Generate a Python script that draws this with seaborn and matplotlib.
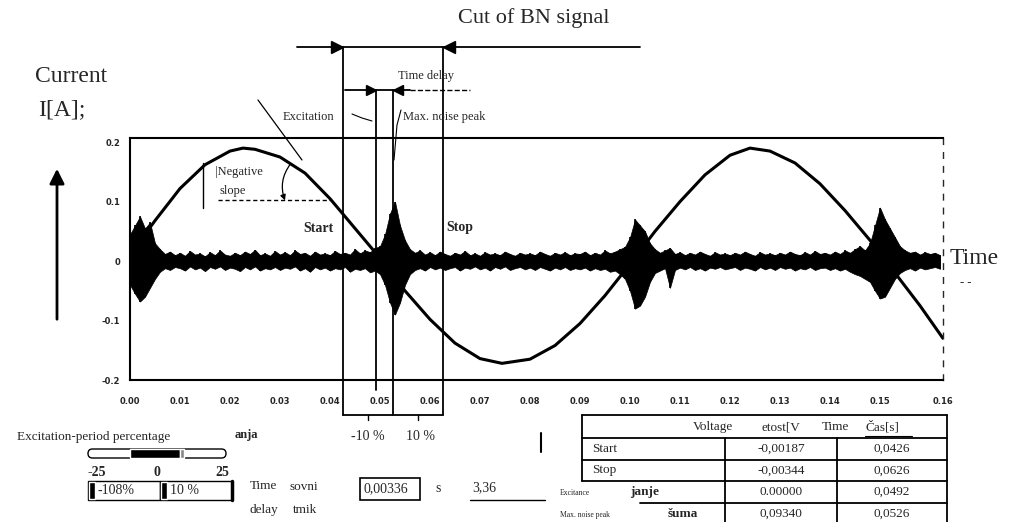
"""Barkhausen noise signal with excitation current and cut window."""

import matplotlib

matplotlib.use("Agg")

import matplotlib.pyplot as plt
import seaborn as sns
from matplotlib.patches import FancyBboxPatch, Rectangle

sns.set_style("white")
plt.rcParams["font.family"] = ["Liberation Serif", "DejaVu Serif"]

# Excitation current (sine)
sine_t = [0.003, 0.005, 0.010, 0.015, 0.020, 0.0226, 0.025, 0.030, 0.035,
          0.040, 0.045, 0.050, 0.055, 0.060, 0.065, 0.070, 0.0744, 0.080,
          0.085, 0.090, 0.095, 0.100, 0.105, 0.110, 0.115, 0.120, 0.124,
          0.128, 0.133, 0.138, 0.143, 0.148, 0.153, 0.158, 0.1626]
sine_i = [0.045, 0.068, 0.122, 0.162, 0.185, 0.190, 0.188, 0.175, 0.148,
          0.105, 0.055, 0.005, -0.050, -0.098, -0.138, -0.164, -0.172, -0.165,
          -0.142, -0.105, -0.058, -0.005, 0.050, 0.100, 0.145, 0.178, 0.190,
          0.185, 0.165, 0.130, 0.085, 0.035, -0.020, -0.075, -0.130]

# Barkhausen noise envelope, one value per millisecond (upper / lower edge)
noise_hi = [0.045, 0.060, 0.075, 0.055, 0.065, 0.030, 0.020, 0.012, 0.016, 0.010,
            0.014, 0.009, 0.017, 0.011, 0.013, 0.008, 0.015, 0.010, 0.018, 0.011,
            0.009, 0.014, 0.010, 0.016, 0.012, 0.019, 0.010, 0.013, 0.009, 0.017,
            0.011, 0.015, 0.010, 0.018, 0.012, 0.014, 0.009, 0.016, 0.011, 0.013,
            0.010, 0.017, 0.012, 0.014, 0.011, 0.020, 0.013, 0.018, 0.015, 0.022,
            0.025, 0.045, 0.080, 0.100, 0.060, 0.035, 0.020, 0.014, 0.018, 0.011,
            0.015, 0.010, 0.016, 0.012, 0.009, 0.014, 0.011, 0.017, 0.010, 0.013,
            0.009, 0.015, 0.011, 0.013, 0.010, 0.016, 0.012, 0.009, 0.014, 0.011,
            0.013, 0.010, 0.016, 0.012, 0.009, 0.014, 0.011, 0.015, 0.010, 0.013,
            0.012, 0.016, 0.010, 0.014, 0.011, 0.018, 0.013, 0.016, 0.020, 0.024,
            0.040, 0.070, 0.060, 0.050, 0.030, 0.020, 0.014, 0.018, 0.022, 0.012,
            0.015, 0.010, 0.014, 0.011, 0.016, 0.012, 0.009, 0.015, 0.011, 0.013,
            0.010, 0.014, 0.011, 0.016, 0.012, 0.009, 0.015, 0.011, 0.013, 0.010,
            0.014, 0.011, 0.016, 0.012, 0.010, 0.015, 0.011, 0.017, 0.012, 0.014,
            0.011, 0.016, 0.012, 0.018, 0.014, 0.020, 0.025, 0.018, 0.030, 0.060,
            0.090, 0.070, 0.055, 0.040, 0.025, 0.018, 0.014, 0.016, 0.011, 0.015,
            0.012, 0.014, 0.010]
noise_lo = [-0.040, -0.055, -0.068, -0.060, -0.045, -0.030, -0.018, -0.012, -0.015, -0.010,
            -0.012, -0.016, -0.009, -0.014, -0.011, -0.017, -0.010, -0.013, -0.009, -0.015,
            -0.011, -0.013, -0.017, -0.010, -0.014, -0.009, -0.016, -0.012, -0.014, -0.010,
            -0.015, -0.011, -0.013, -0.009, -0.016, -0.012, -0.018, -0.010, -0.014, -0.011,
            -0.016, -0.012, -0.014, -0.010, -0.018, -0.013, -0.015, -0.012, -0.019, -0.016,
            -0.022, -0.040, -0.070, -0.090, -0.070, -0.040, -0.022, -0.015, -0.012, -0.016,
            -0.010, -0.014, -0.011, -0.015, -0.012, -0.010, -0.016, -0.011, -0.013, -0.009,
            -0.014, -0.011, -0.016, -0.010, -0.013, -0.009, -0.015, -0.012, -0.010, -0.014,
            -0.011, -0.015, -0.010, -0.013, -0.016, -0.011, -0.014, -0.010, -0.015, -0.012,
            -0.014, -0.011, -0.016, -0.012, -0.015, -0.013, -0.018, -0.016, -0.022, -0.030,
            -0.050, -0.080, -0.075, -0.060, -0.035, -0.020, -0.016, -0.012, -0.045, -0.015,
            -0.011, -0.014, -0.010, -0.015, -0.012, -0.016, -0.011, -0.013, -0.010, -0.014,
            -0.012, -0.010, -0.015, -0.011, -0.013, -0.016, -0.010, -0.014, -0.011, -0.015,
            -0.010, -0.013, -0.011, -0.016, -0.012, -0.014, -0.010, -0.015, -0.012, -0.011,
            -0.015, -0.012, -0.016, -0.013, -0.018, -0.022, -0.025, -0.030, -0.035, -0.050,
            -0.063, -0.060, -0.045, -0.030, -0.020, -0.015, -0.012, -0.016, -0.011, -0.014,
            -0.012, -0.010, -0.013]
noise_t = [round(0.001 * k, 3) for k in range(len(noise_hi))]

x_ticks = [0.00, 0.01, 0.02, 0.03, 0.04, 0.05, 0.06, 0.07, 0.08, 0.09,
           0.10, 0.11, 0.12, 0.13, 0.14, 0.15, 0.1626]
x_tick_labels = ["0.00", "0.01", "0.02", "0.03", "0.04", "0.05", "0.06",
                 "0.07", "0.08", "0.09", "0.10", "0.11", "0.12", "0.13",
                 "0.14", "0.15", "0.16"]
y_ticks = [-0.2, -0.1, 0.0, 0.1, 0.2]
y_tick_labels = ["-0.2", "-0.1", "0", "0.1", "0.2"]

# Result table
row_names = ["Start", "Stop", "janje", "šuma"]
row_notes = ["", "", "Excitance", "Max. noise peak"]
row_voltage = ["-0,00187", "-0,00344", "0.00000", "0,09340"]
row_time = [0.0426, 0.0626, 0.0492, 0.0526]
row_time_text = ["0,0426", "0,0626", "0,0492", "0,0526"]

W, H = 1025, 522
fig = plt.figure(figsize=(W / 100, H / 100), dpi=100)
ax = fig.add_axes([130 / W, 1 - 380 / H, 813 / W, 242 / H])

sns.lineplot(x=sine_t, y=sine_i, ax=ax, color="black", linewidth=2.2)
ax.fill_between(noise_t, noise_lo, noise_hi, color="black", linewidth=0.5)
ax.vlines(noise_t, noise_lo, noise_hi, color="black", linewidth=1.2)

ax.set_xlim(0, 0.1626)
ax.set_ylim(-0.2, 0.207)
ax.set_xticks(x_ticks)
ax.set_xticklabels(x_tick_labels, fontfamily="DejaVu Sans", fontsize=6,
                   fontweight="bold")
ax.set_yticks(y_ticks)
ax.set_yticklabels(y_tick_labels, fontfamily="DejaVu Sans", fontsize=6,
                   fontweight="bold")
ax.set_xticks([i * 0.0025 for i in range(66)], minor=True)
ax.tick_params(axis="x", which="major", direction="in", length=4, pad=12)
ax.tick_params(axis="x", which="minor", direction="in", length=2)
ax.tick_params(axis="y", direction="out", length=3, pad=4)
for side in ["left", "bottom", "top"]:
    ax.spines[side].set_color("black")
    ax.spines[side].set_linewidth(1.5)
ax.spines["right"].set_linestyle((0, (4, 6)))
ax.spines["right"].set_linewidth(1)

# Overlay in figure pixels for all the annotations
over = fig.add_axes([0, 0, 1, 1])
over.set_xlim(0, W)
over.set_ylim(H, 0)
over.axis("off")
over.patch.set_alpha(0)


def px(t):
    return ax.transData.transform((t, 0))[0]


t_start, t_stop, t_exc, t_peak = (px(t) for t in row_time)
line = dict(color="black", linewidth=1.3)

for x0, y0, y1 in [(t_start, 47, 415), (t_stop, 47, 415),
                   (t_exc, 90, 390), (t_peak, 90, 415)]:
    over.plot([x0, x0], [y0, y1], **line)

# Cut of BN signal
over.text(458, 18, "Cut of BN signal", fontsize=16, va="center")
over.plot([297, 640], [47, 47], **line)
over.plot(t_start - 6, 47, marker=">", color="black", markersize=9)
over.plot(t_stop + 6, 47, marker="<", color="black", markersize=9)

# Time delay
over.text(398, 76, "Time delay", fontsize=9, va="center")
over.plot([345, 410], [90, 90], **line)
over.plot([410, 470], [90, 90], color="black", linewidth=1, linestyle="--")
over.plot(t_exc - 5, 90, marker=">", color="black", markersize=7)
over.plot(t_peak + 5, 90, marker="<", color="black", markersize=7)

over.text(283, 117, "Excitation", fontsize=9, va="center")
over.plot([352, 362, 372], [114, 118, 121], color="black", linewidth=0.8)
over.text(403, 117, "Max. noise peak", fontsize=9, va="center")
over.plot([401, 397, 394], [110, 125, 160], color="black", linewidth=0.8)
over.plot([258, 302], [100, 160], color="black", linewidth=0.9)

# Axis captions
over.text(35, 77, "Current", fontsize=17, va="center")
over.text(38, 110, "I[A];", fontsize=17, va="center")
over.annotate("", xy=(57, 166), xytext=(57, 322),
              arrowprops=dict(arrowstyle="-|>", color="black", lw=2,
                              mutation_scale=22))
over.text(950, 258, "Time", fontsize=17, va="center")
over.text(960, 283, "- -", fontsize=9, va="center")

# Negative slope marker
over.text(215, 172, "|Negative", fontsize=9, va="center")
over.text(219, 191, "slope", fontsize=9, va="center")
over.plot([203, 203], [163, 208], color="black", linewidth=1)
over.plot([218, 330], [200, 200], color="black", linewidth=1,
          linestyle=(0, (3, 2)))
over.annotate("", xy=(286, 203), xytext=(292, 162),
              arrowprops=dict(arrowstyle="-|>", color="black", lw=0.9,
                              connectionstyle="arc3,rad=0.3",
                              mutation_scale=8))
over.text(303, 228, "Start", fontsize=10, va="center", fontweight="bold")
over.text(446, 228, "Stop", fontsize=10, va="center", fontweight="bold")

# Brackets below the axis
over.plot([t_start, t_stop], [415, 415], **line)
for xm in [(t_start + t_peak) / 2, (t_peak + t_stop) / 2]:
    over.plot([xm, xm], [415, 420], color="black", linewidth=1)
over.text((t_start + t_peak) / 2, 437, "-10 %", fontsize=10, ha="center",
          va="center")
over.text((t_peak + t_stop) / 2 + 3, 437, "10 %", fontsize=10, ha="center",
          va="center")
over.plot([541, 541], [433, 452], color="black", linewidth=1.5)

# Bottom-left controls
over.text(17, 437, "Excitation-period percentage", fontsize=9.5,
          va="center")
over.text(235, 435, "anja", fontsize=9, va="center", fontweight="bold")
over.add_patch(FancyBboxPatch((88, 449), 138, 9,
                              boxstyle="round,pad=0,rounding_size=4.5",
                              facecolor="white", edgecolor="black", lw=1))
over.add_patch(Rectangle((130, 449), 50, 9, facecolor="black"))
over.add_patch(Rectangle((180, 449), 4, 9, facecolor="#888888"))
for label, xl in [("-25", 97), ("0", 157), ("25", 222)]:
    over.text(xl, 472, label, fontsize=10, ha="center", va="center",
              fontweight="bold")

for x0, label in [(88, "-108%"), (160, "10 %")]:
    over.add_patch(Rectangle((x0, 481), 72, 19, facecolor="none",
                             edgecolor="black", lw=1))
    over.add_patch(Rectangle((x0 + 1, 482), 6, 17, facecolor="black"))
    over.text(x0 + 10, 490, label, fontsize=10, va="center")
over.plot([232, 232], [481, 500], color="black", linewidth=2.5)

over.text(250, 486, "Time", fontsize=9.5, va="center")
over.text(250, 510, "delay", fontsize=9.5, va="center")
over.text(290, 487, "sovni", fontsize=9.5, va="center")
over.text(293, 510, "tmik", fontsize=9.5, va="center")
over.add_patch(Rectangle((360, 478), 60, 22, facecolor="none",
                         edgecolor="black", lw=1.2))
over.text(363, 489, "0,00336", fontsize=10, va="center")
over.text(435, 489, "s", fontsize=10, va="center")
over.text(472, 488, "3,36", fontsize=10, va="center")
over.plot([470, 545], [500, 500], color="black", linewidth=1)

# Result table
tl, c1, c2, tr = 582, 725, 837, 947
rows_y = [415, 438, 460, 481, 503]
for yl in rows_y[:4]:
    over.plot([tl, tr], [yl, yl], **line)
over.plot([640, tr], [rows_y[4], rows_y[4]], **line)
over.plot([tl, tl], [rows_y[0], rows_y[3]], **line)
over.plot([tr, tr], [rows_y[0], H], **line)
over.plot([c1, c1], [rows_y[1], H], **line)
over.plot([c2, c2], [rows_y[1], H], **line)

over.text(693, 427, "Voltage", fontsize=9.5, va="center")
over.text(762, 427, "etost[V", fontsize=9.5, va="center")
over.text(822, 427, "Time", fontsize=9.5, va="center")
over.text(866, 427, "Čas[s]", fontsize=9.5, va="center")
over.plot([865, 912], [436, 436], color="black", linewidth=0.8)

for k, name in enumerate(row_names):
    yc = (rows_y[k + 1] + (rows_y[k + 2] if k + 2 < len(rows_y) else 525)) / 2
    if row_notes[k]:
        over.text(560, yc + 1, row_notes[k], fontsize=5.5, va="center")
        over.text(630 if k == 2 else 668, yc, name, fontsize=9.5,
                  va="center", fontweight="bold")
    else:
        over.text(592, yc, name, fontsize=9.5, va="center")
    over.text((c1 + c2) / 2, yc, row_voltage[k], fontsize=9.5, ha="center",
              va="center")
    over.text((c2 + tr) / 2, yc, row_time_text[k], fontsize=9.5,
              ha="center", va="center")

fig.savefig("out.png", dpi=100)
